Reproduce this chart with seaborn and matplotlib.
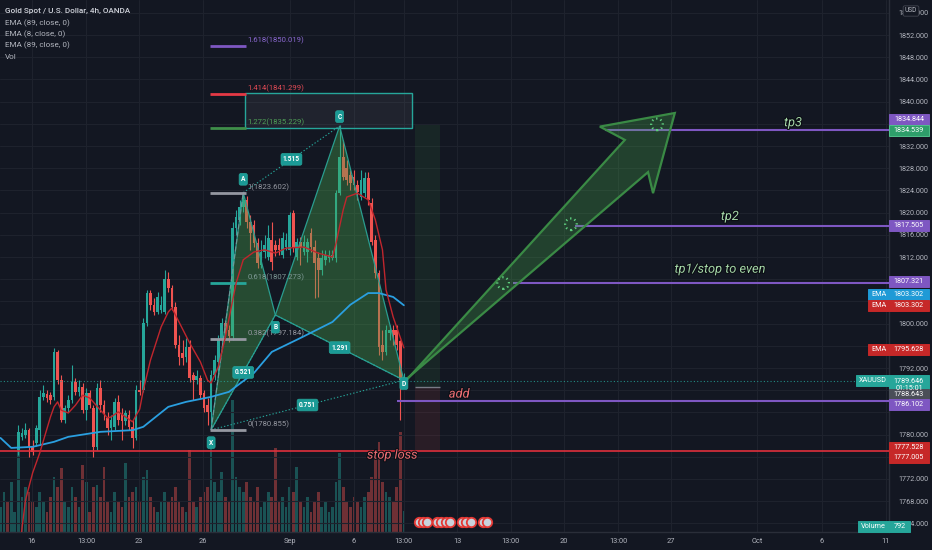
import matplotlib
matplotlib.use('Agg')
import matplotlib.pyplot as plt
import matplotlib.transforms as mtransforms
from matplotlib.patches import Polygon, Rectangle
import matplotlib.patheffects as pe
import seaborn as sns

sns.set_style('dark')
plt.rcParams['font.family'] = ['Roboto', 'DejaVu Sans']

# ---------------- data ----------------
opens = [1752.0, 1755.5, 1757.0, 1754.5, 1756.0,
         1777.2, 1779.6, 1779.9, 1780.8, 1777.8, 1778.5, 1780.8, 1786.8, 1787.3, 1787.1,
         1786.8, 1794.9, 1789.8, 1782.6, 1784.8, 1786.2, 1789.5, 1787.7, 1788.6, 1784.4,
         1787.5, 1784.8, 1777.8, 1788.4, 1785.3, 1783.0, 1781.2, 1781.4, 1785.9, 1783.7,
         1782.5, 1783.5, 1781.4, 1779.4, 1788.0, 1788.0, 1800.1, 1805.5, 1803.4, 1802.1,
         1802.5, 1802.1, 1808.0, 1806.4, 1803.0, 1796.2, 1794.7, 1794.0, 1795.8, 1790.7,
         1789.8, 1790.2, 1787.5, 1785.3, 1784.1, 1790.7, 1793.1, 1797.1, 1800.1, 1798.9,
         1797.8, 1817.2, 1818.7, 1821.0, 1822.3, 1818.3, 1817.8, 1814.5, 1810.6, 1812.9,
         1812.0, 1815.1, 1814.2, 1814.2, 1812.4, 1813.8, 1813.3, 1819.9, 1812.0, 1814.7,
         1812.9, 1812.9, 1816.3, 1813.8, 1811.8, 1809.7, 1811.5, 1811.8, 1811.8, 1811.8,
         1823.5, 1830.0, 1828.0, 1826.8, 1826.4, 1825.0, 1822.8, 1823.5, 1826.2, 1821.7,
         1815.1, 1809.1, 1796.2, 1794.9, 1798.3, 1798.9, 1798.9, 1796.8, 1789.1]
closes = [1755.5, 1757.0, 1754.5, 1756.0, 1759.0,
          1780.5, 1780.3, 1780.8, 1777.8, 1776.9, 1781.2, 1786.8, 1787.5, 1786.6, 1786.2,
          1794.9, 1789.8, 1782.6, 1784.8, 1786.2, 1789.5, 1787.7, 1788.6, 1784.4, 1787.5,
          1785.3, 1777.8, 1788.4, 1785.3, 1783.9, 1781.2, 1782.6, 1785.9, 1782.6, 1782.5,
          1783.9, 1781.4, 1779.4, 1788.0, 1787.7, 1800.1, 1805.5, 1803.4, 1802.1, 1804.8,
          1803.4, 1808.0, 1806.4, 1803.0, 1796.2, 1794.0, 1793.8, 1795.8, 1790.2, 1789.8,
          1790.6, 1787.1, 1784.8, 1784.1, 1790.7, 1793.4, 1797.1, 1800.1, 1798.3, 1797.8,
          1817.2, 1819.2, 1821.0, 1822.3, 1818.3, 1816.3, 1814.5, 1810.9, 1812.9, 1814.2,
          1815.4, 1811.1, 1813.3, 1813.3, 1815.4, 1815.1, 1819.6, 1813.8, 1814.7, 1813.8,
          1814.7, 1814.7, 1813.8, 1810.9, 1809.7, 1811.8, 1812.4, 1812.4, 1812.4, 1823.5,
          1830.0, 1826.4, 1825.9, 1825.3, 1825.0, 1823.7, 1825.9, 1826.2, 1822.3, 1814.7,
          1809.1, 1795.8, 1794.9, 1798.9, 1798.9, 1797.9, 1796.2, 1789.8, 1789.646]
highs = [1756.5, 1758.5, 1758.0, 1757.5, 1760.5,
         1781.7, 1781.2, 1782.1, 1781.2, 1779.0, 1781.7, 1788.0, 1788.9, 1788.0, 1787.7,
         1795.6, 1795.3, 1790.7, 1785.3, 1787.1, 1792.5, 1790.2, 1789.8, 1789.3, 1788.4,
         1788.0, 1785.3, 1789.3, 1789.8, 1786.2, 1784.1, 1783.5, 1786.6, 1787.1, 1784.8,
         1784.4, 1784.4, 1782.6, 1788.9, 1789.8, 1801.0, 1806.1, 1806.1, 1804.6, 1805.7,
         1805.0, 1809.7, 1809.3, 1807.0, 1803.9, 1798.0, 1797.1, 1797.4, 1797.1, 1791.3,
         1791.6, 1790.7, 1788.0, 1786.6, 1791.6, 1794.3, 1798.0, 1801.0, 1800.7, 1799.8,
         1818.3, 1820.5, 1822.3, 1823.6, 1823.0, 1819.6, 1818.7, 1815.4, 1815.1, 1816.0,
         1817.8, 1818.3, 1815.1, 1815.4, 1816.5, 1816.3, 1820.1, 1820.5, 1815.4, 1815.6,
         1816.0, 1815.4, 1817.2, 1815.1, 1812.9, 1813.3, 1813.3, 1813.3, 1813.3, 1824.1,
         1835.8, 1833.1, 1829.5, 1827.7, 1827.7, 1825.9, 1827.7, 1827.3, 1827.3, 1822.6,
         1816.0, 1809.7, 1798.9, 1799.8, 1799.8, 1799.8, 1799.8, 1797.1, 1791.1]
lows = [1751.0, 1754.0, 1753.5, 1753.0, 1755.0,
        1776.3, 1779.0, 1779.4, 1776.0, 1776.3, 1778.0, 1778.1, 1786.2, 1785.9, 1785.5,
        1786.2, 1789.1, 1782.3, 1782.1, 1784.1, 1785.7, 1787.1, 1786.9, 1783.9, 1782.6,
        1784.8, 1776.0, 1777.2, 1784.1, 1782.6, 1779.9, 1779.0, 1780.8, 1781.7, 1779.0,
        1781.7, 1780.8, 1777.6, 1779.0, 1787.1, 1787.7, 1799.6, 1802.5, 1801.6, 1801.7,
        1801.9, 1801.7, 1805.7, 1802.5, 1795.6, 1792.5, 1792.5, 1793.1, 1789.5, 1786.2,
        1789.1, 1786.6, 1784.1, 1781.7, 1780.9, 1789.8, 1790.7, 1796.2, 1797.4, 1796.7,
        1797.1, 1816.0, 1817.8, 1820.1, 1817.2, 1813.3, 1813.8, 1810.0, 1810.0, 1811.8,
        1811.5, 1809.7, 1812.2, 1812.4, 1811.8, 1813.3, 1812.4, 1812.9, 1811.5, 1810.6,
        1812.4, 1811.1, 1812.9, 1804.6, 1804.8, 1808.8, 1810.6, 1811.1, 1811.5, 1811.1,
        1823.2, 1825.9, 1825.0, 1824.1, 1824.1, 1822.3, 1822.3, 1822.8, 1821.4, 1814.2,
        1808.2, 1794.4, 1793.4, 1794.4, 1797.1, 1796.2, 1795.3, 1782.6, 1788.4]
volumes = [950, 1520, 1140, 1900, 760, 3120, 1330, 1710, 1520, 1140,
           950, 1520, 1140, 760, 1330, 2090, 1710, 2430, 1140, 950,
           1710, 1330, 950, 2550, 1900, 760, 1710, 1790, 1330, 2470,
           1140, 760, 1520, 1140, 950, 2620, 1330, 1520, 1710, 1140,
           2090, 2360, 1330, 950, 760, 1140, 1520, 1140, 1330, 1710,
           1140, 950, 760, 3120, 1140, 950, 1330, 1520, 1710, 3610,
           1900, 1520, 2280, 1330, 1140, 5020, 2090, 1710, 1520, 1900,
           1330, 1140, 1710, 950, 1140, 1520, 1330, 3190, 1140, 1330,
           950, 1710, 1520, 2470, 1140, 950, 1330, 760, 1140, 1520,
           950, 1140, 760, 950, 1900, 3000, 1710, 1140, 950, 1330,
           1140, 950, 1330, 1520, 2090, 2850, 3420, 1900, 1520, 1330,
           1140, 1710, 3800, 792]

ema89_bar = [0, 3, 9, 15, 19, 28, 37, 40, 47, 52, 59, 64, 71, 76, 84, 93, 98, 103, 106, 110, 113]
ema89_val = [1779.4, 1777.6, 1777.8, 1778.7, 1779.6, 1780.5, 1780.8, 1781.4, 1785.0, 1785.9,
             1786.8, 1787.7, 1791.1, 1794.9, 1797.4, 1800.3, 1803.4, 1805.5, 1805.5, 1804.8, 1803.302]
ema8_bar = [5, 6, 7, 9, 11, 14, 15, 16, 17, 19, 21, 23, 25, 28, 30, 31, 33, 37, 38, 39, 40, 42,
            45, 47, 48, 50, 53, 56, 58, 59, 61, 63, 66, 68, 71, 74, 77, 80, 85, 89, 93, 94, 96,
            97, 100, 103, 105, 107, 108, 110, 113]
ema8_val = [1758.0, 1763.0, 1768.2, 1773.1, 1776.7, 1783.2, 1785.0, 1785.9, 1784.4, 1783.9,
            1785.3, 1787.1, 1786.6, 1784.4, 1783.0, 1783.2, 1784.1, 1782.3, 1783.5, 1784.6,
            1788.0, 1793.4, 1799.4, 1802.1, 1802.8, 1800.3, 1796.5, 1793.1, 1789.8, 1789.3,
            1792.2, 1797.6, 1807.3, 1811.5, 1812.9, 1813.3, 1812.7, 1813.6, 1813.8, 1812.7,
            1812.0, 1814.5, 1820.5, 1822.8, 1823.5, 1822.3, 1818.7, 1813.3, 1806.1, 1801.2,
            1795.628]

date_tick_bars = [8.8, 24.0, 38.8, 56.7, 81.1, 99.0, 113.0, 127.9, 143.0, 157.8, 173.0,
                  187.8, 211.9, 230.1, 248.0]
date_tick_labels = ['16', '13:00', '23', '26', 'Sep', '6', '13:00', '13', '13:00', '20',
                    '13:00', '27', 'Oct', '6', '11']
price_ticks = list(range(1764, 1857, 4))
covered_ticks = [1836, 1808, 1804, 1796, 1788, 1784, 1776]   # hidden behind price labels

pattern_names = ['X', 'A', 'B', 'C', 'D']
pattern_bars = [59, 68, 77, 95, 113]
pattern_prices = [1780.855, 1823.602, 1801.55, 1835.6, 1789.8]
ratio_pairs = [(0, 2), (1, 3), (2, 4), (0, 4)]
ratio_labels = ['0.521', '1.515', '1.291', '0.751']

fib_ratios = ['1.618', '1.414', '1.272', '1', '0.618', '0.382', '0']
fib_prices = [1850.019, 1841.299, 1835.229, 1823.602, 1807.273, 1797.184, 1780.855]
fib_colors = ['#7e57c2', '#e53945', '#3f8f4a', '#9598a1', '#26a69a', '#9598a1', '#9598a1']
fib_text_colors = ['#8a68cf', '#e04a55', '#4f9e57', '#9598a1', '#7f9a96', '#9598a1', '#9598a1']

target_names = ['tp3', 'tp2', 'tp1/stop to even', 'add']
target_prices = [1834.844, 1817.505, 1807.321, 1786.102]
target_start = [169.3, 160.9, 143.6, 111.1]
target_text_pos = [(222.0, 1836.2), (204.3, 1819.3), (201.5, 1809.8), (128.5, 1787.3)]
stop_price = 1777.005
last_price = 1789.646
entry_price = 1788.643

# ---------------- figure ----------------
BG = '#131722'
W, H = 932, 550
fig = plt.figure(figsize=(W / 100, H / 100), dpi=100, facecolor=BG)
rect = [0, 18 / H, 889 / W, 532 / H]
XL = (-0.14, 248.9)
YL = (1762.45, 1858.31)
PPX = (YL[1] - YL[0]) / 532.0

vax = fig.add_axes(rect, facecolor=BG)
vax.set_xlim(*XL)
vax.set_ylim(0, 20216)
vax.axis('off')

ax = fig.add_axes(rect, facecolor='none')
ax.set_xlim(*XL)
ax.set_ylim(*YL)
ax.set_zorder(2)

UP, DN = '#26a69a', '#ef5350'
idx = list(range(len(closes)))
cols = [UP if c >= o else DN for o, c in zip(opens, closes)]

# volume
vax.bar(idx, volumes, width=0.75, color=cols, alpha=0.42, linewidth=0)

# grid / ticks
ax.set_xticks(date_tick_bars)
ax.set_xticklabels(date_tick_labels)
ax.set_yticks(price_ticks)
ax.set_yticklabels(['' if t in covered_ticks else f'{t:.3f}' for t in price_ticks])
ax.grid(True, color='#1e222d', linewidth=0.8)
ax.yaxis.tick_right()
ax.tick_params(axis='y', length=0, labelsize=5.2, labelcolor='#b2b5be', pad=7)
ax.tick_params(axis='x', length=0, labelsize=5.3, labelcolor='#b2b5be', pad=4)
for s in ['top', 'left']:
    ax.spines[s].set_visible(False)
for s in ['bottom', 'right']:
    ax.spines[s].set_color('#2a2e39')
    ax.spines[s].set_linewidth(1.0)

# candles
bodies_b = [min(o, c) for o, c in zip(opens, closes)]
bodies_h = [max(abs(c - o), 0.15) for o, c in zip(opens, closes)]
ax.vlines(idx, lows, highs, colors=cols, linewidth=0.8, zorder=2)
ax.bar(idx, bodies_h, bottom=bodies_b, width=0.75, color=cols, linewidth=0, zorder=2)

# long position tool
ax.add_patch(Rectangle((116.1, entry_price), 7.0, 1835.8 - entry_price, fc='#4caf50', alpha=0.10, lw=0, zorder=1))
ax.add_patch(Rectangle((116.1, 1777.3), 7.0, entry_price - 1777.3, fc='#ef5350', alpha=0.10, lw=0, zorder=1))
ax.hlines(entry_price, 116.1, 123.1, color='#787b86', lw=1.0, zorder=2)

# harmonic pattern
P = list(zip(pattern_bars, pattern_prices))
for tri in ([P[0], P[1], P[2]], [P[2], P[3], P[4]]):
    ax.add_patch(Polygon(tri, closed=True, fc='#4caf50', alpha=0.35, ec='none', zorder=3))
    ax.add_patch(Polygon(tri, closed=True, fill=False, ec='#2a9d8f', lw=0.9, zorder=3))
for (a, b) in ratio_pairs:
    ax.plot([P[a][0], P[b][0]], [P[a][1], P[b][1]], ls=(0, (1.2, 1.8)), color='#26a69a', lw=0.8, zorder=3)
ax.plot([P[0][0], P[1][0]], [P[0][1], P[1][1]], ls=(0, (4, 2)), color='#9598a1', lw=0.9, alpha=0.6, zorder=3)

# fib levels
for r, p, c, tc in zip(fib_ratios, fib_prices, fib_colors, fib_text_colors):
    ax.hlines(p, 58.7, 68.8, color=c, lw=2.0, zorder=4)
    ax.text(69.3, p + 0.35, f'{r}({p:.3f})', color=tc, fontsize=5.6, ha='left', va='bottom', zorder=4)
ax.add_patch(Rectangle((68.5, 1835.229), 115.3 - 68.5, 1841.299 - 1835.229 + 0.2, fc='#787b86', alpha=0.13,
                       ec='none', zorder=3))
ax.add_patch(Rectangle((68.5, 1835.229), 115.3 - 68.5, 1841.299 - 1835.229 + 0.2, fill=False,
                       ec='#26a69a', lw=1.0, zorder=3))

# EMA lines
sns.lineplot(x=ema89_bar, y=ema89_val, ax=ax, color='#2a9fe0', linewidth=1.3, zorder=5)
sns.lineplot(x=ema8_bar, y=ema8_val, ax=ax, color='#c0262d', linewidth=1.0, zorder=5)
ax.set_xlabel('')
ax.set_ylabel('')

# pattern labels
box = dict(boxstyle='round,pad=0.28', fc='#1b9a96', ec='#26a69a', lw=0.5)
offs = [-2.3, 2.4, -2.2, 1.7, -0.6]
for n, (x, y), o in zip(pattern_names, P, offs):
    ax.text(x, y + o, n, fontsize=4.8, color='white', weight='bold', ha='center', va='center', bbox=box, zorder=7)
for (a, b), lab in zip(ratio_pairs, ratio_labels):
    ax.text((P[a][0] + P[b][0]) / 2, (P[a][1] + P[b][1]) / 2, lab, fontsize=4.8, color='white',
            weight='bold', ha='center', va='center', bbox=box, zorder=7)

# target lines
PURPLE = '#7e57c2'
for p, s in zip(target_prices, target_start):
    ax.hlines(p, s, XL[1], color=PURPLE, lw=1.5, zorder=4)
ax.axhline(stop_price, color='#e0303c', lw=1.2, zorder=4)
ax.axhline(last_price, color='#26a69a', ls=(0, (1, 2)), lw=0.8, alpha=0.8, zorder=4)

# arrow
arrow_pts = [(112.7, 1789.1), (174.9, 1833.1), (167.9, 1835.5), (188.9, 1837.95),
             (182.8, 1823.5), (181.4, 1827.3), (113.9, 1790.1)]
ax.add_patch(Polygon(arrow_pts, closed=True, fc='#4caf50', alpha=0.28, ec='none', zorder=5))
ax.add_patch(Polygon(arrow_pts, closed=True, fill=False, ec='#3a8a45', lw=1.6, zorder=5))
ax.scatter([140.8, 159.8, 183.9], [1807.3, 1817.9, 1835.9], s=70, facecolors='none',
           edgecolors='#5fcf7f', linewidths=1.6, linestyles=(0, (0.6, 1.4)), zorder=6)

# italic text labels
shadow = [pe.withStroke(linewidth=1.6, foreground='#0b0e14')]
tp_color = '#a5d6a7'
for name, (tx, ty) in zip(target_names, target_text_pos):
    c = '#ee6e73' if name == 'add' else tp_color
    ax.text(tx, ty, name, fontsize=9.2, style='italic', color=c, ha='center', va='center',
            path_effects=shadow, zorder=8)
ax.text(109.7, 1776.3, 'stop loss', fontsize=9.2, style='italic', color='#ee6e73', ha='center', va='center',
        path_effects=shadow, zorder=8)

# event icons at the bottom
icon_tr = mtransforms.blended_transform_factory(ax.transData, ax.transAxes)
ax.scatter([117.2, 118.4, 119.6, 122.3, 123.5, 124.7, 125.9, 129.3, 130.5, 131.7, 135.2, 136.4],
           [0.018] * 12, s=46, transform=icon_tr, facecolors='#c9d3dc', edgecolors='#e53935',
           linewidths=1.3, zorder=9, clip_on=False)

# ---------------- right price-axis labels ----------------
blend = mtransforms.blended_transform_factory(ax.transAxes, ax.transData)


def pbox(yc, text, fc, x0_px=0, w_px=40, h_px=11, tc='white', ec=None):
    h = h_px * PPX
    x0 = 1 + x0_px / 889.0
    ax.add_patch(Rectangle((x0, yc - h / 2), w_px / 889.0, h, transform=blend, fc=fc, ec=ec or fc,
                           lw=0.7, clip_on=False, zorder=20))
    ax.text(x0 + w_px / 889.0 / 2, yc, text, transform=blend, ha='center', va='center', fontsize=5.2,
            color=tc, clip_on=False, zorder=21, linespacing=1.0)


pbox(1836.8, '1834.844', PURPLE)
pbox(1834.8, '1834.539', '#2e9e6a', ec='#4fc08a')
pbox(1817.6, '1817.505', PURPLE)
pbox(1807.6, '1807.321', PURPLE)
pbox(1805.3, '1803.302', '#1e9ad6')
pbox(1805.3, 'EMA', '#1e9ad6', x0_px=-21, w_px=21)
pbox(1803.3, '1803.302', '#c62828')
pbox(1803.3, 'EMA', '#c62828', x0_px=-21, w_px=21)
pbox(1795.4, '1795.628', '#c62828')
pbox(1795.4, 'EMA', '#c62828', x0_px=-21, w_px=21)
pbox(1789.0, '1789.646\n01:15:01', '#26a69a', h_px=19)
pbox(1789.66, 'XAUUSD', '#26a69a', x0_px=-33, w_px=33)
pbox(1787.2, '1788.643', '#4a4e58')
pbox(1785.4, '1786.102', PURPLE)
pbox(1777.6, '1777.528', '#c62828')
pbox(1775.8, '1777.005', '#c62828')
pbox(1763.4, '792', '#26a69a', w_px=21)
pbox(1763.4, 'Volume', '#26a69a', x0_px=-31, w_px=31)

fig.text(911 / W, 1 - 11 / H, 'USD', fontsize=4.8, color='#b2b5be', ha='center', va='center',
         bbox=dict(boxstyle='round,pad=0.25', fc=BG, ec='#434651', lw=0.6), zorder=30)

# ---------------- legend (top left) ----------------
legend_lines = ['Gold Spot / U.S. Dollar, 4h, OANDA', 'EMA (89, close, 0)', 'EMA (8, close, 0)',
                'EMA (89, close, 0)', 'Vol']
legend_y = [11, 23, 34, 45, 57]
for i, (t, y) in enumerate(zip(legend_lines, legend_y)):
    fig.text(5 / W, 1 - y / H, t, fontsize=5.9, color='#d1d4dc' if i == 0 else '#b2b5be',
             weight='medium' if i == 0 else 'normal', ha='left', va='center')

fig.savefig('out.png', dpi=100, facecolor=BG)
